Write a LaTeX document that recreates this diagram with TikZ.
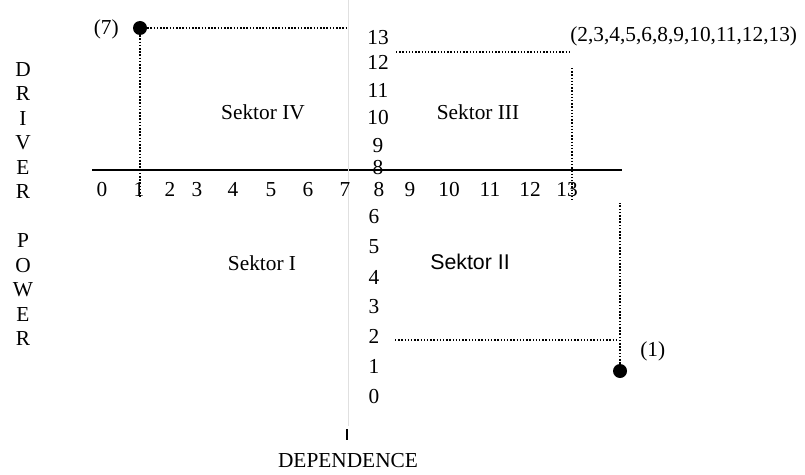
\documentclass[tikz,border=0pt]{standalone}
\usepackage{fontspec}
\setmainfont{Liberation Serif}
\setsansfont{Liberation Sans}

\begin{document}
\begin{tikzpicture}[
        x=0.75pt, y=-0.75pt,
        every node/.style = {font=\fontsize{16}{19}\selectfont, inner sep=0pt},
        tick/.style = {anchor=base},
        sektor/.style = {anchor=base},
        point/.style = {circle, fill=black, minimum size=10.5pt},
        guide/.style = {dash pattern=on 1.1pt off 1.3pt, line width=1.1pt}
        ]
        \useasboundingbox (0,0) rectangle (805,474);

        % axes
        \coordinate (xl) at (92,170);
        \coordinate (xr) at (622,170);
        \coordinate (yt) at (348,0);
        \coordinate (yb) at (348,426);
        \draw[line width=1.5pt] (xl) -- (xr);
        \draw[black!12, line width=0.6pt] (yt) -- (yb);
        \coordinate (tt) at (347,429);
        \coordinate (tb) at (347,440);
        \draw[line width=1.5pt] (tt) -- (tb);

        % dependence values
        \foreach \x/\n in {102/0, 139/1, 170/2, 197/3, 233/4, 271/5, 308/6, 345/7, 379/8,
                           410/9, 449/10, 490/11, 530/12, 567/13}
                \node[tick] (dep\n) at (\x,196) {\n};

        % driver power values
        \foreach \y/\n in {45/13, 70/12, 98/11, 125/10, 152/9, 174/8}
                \node[tick] (drv\n) at (378,\y) {\n};
        \foreach \y/\n in {223/6, 253/5, 284/4, 313/3, 343/2, 373/1, 403/0}
                \node[tick] (dlo\n) at (374,\y) {\n};

        % sectors
        \node[sektor] (s1) at (262,270) {Sektor I};
        \node[sektor, font=\sffamily\fontsize{16}{19}\selectfont] (s2) at (470,269) {Sektor II};
        \node[sektor] (s3) at (478,119) {Sektor III};
        \node[sektor] (s4) at (263,120) {Sektor IV};

        % variables
        \node[point] (v7) at (140,28) {};
        \node[anchor=base east] (l7) at (119,35) {(7)};
        \coordinate (v7h) at (348,28);
        \coordinate (v7v) at (140,198);
        \draw[guide] (v7) -- (v7h);
        \draw[guide] (v7) -- (v7v);

        \node[anchor=base west] (lg) at (570,42) {(2,3,4,5,6,8,9,10,11,12,13)};
        \coordinate (gh1) at (396,52);
        \coordinate (gh2) at (569,52);
        \coordinate (gv1) at (572,68);
        \coordinate (gv2) at (572,200);
        \draw[guide] (gh1) -- (gh2);
        \draw[guide] (gv1) -- (gv2);

        \node[point] (v1) at (620,371) {};
        \node[anchor=base west] (l1) at (640,356) {(1)};
        \coordinate (v1h) at (395,340);
        \coordinate (v1c) at (618,340);
        \coordinate (v1v) at (620,203);
        \draw[guide] (v1h) -- (v1c);
        \draw[guide] (v1) -- (v1v);

        % axis titles
        \node[align=center, font=\fontsize{16}{18.4}\selectfont] (power) at (23,204)
                {D\\R\\I\\V\\E\\R\\[18.4pt]P\\O\\W\\E\\R};
        \node[anchor=base] (dependence) at (348,467) {DEPENDENCE};
\end{tikzpicture}
\end{document}
